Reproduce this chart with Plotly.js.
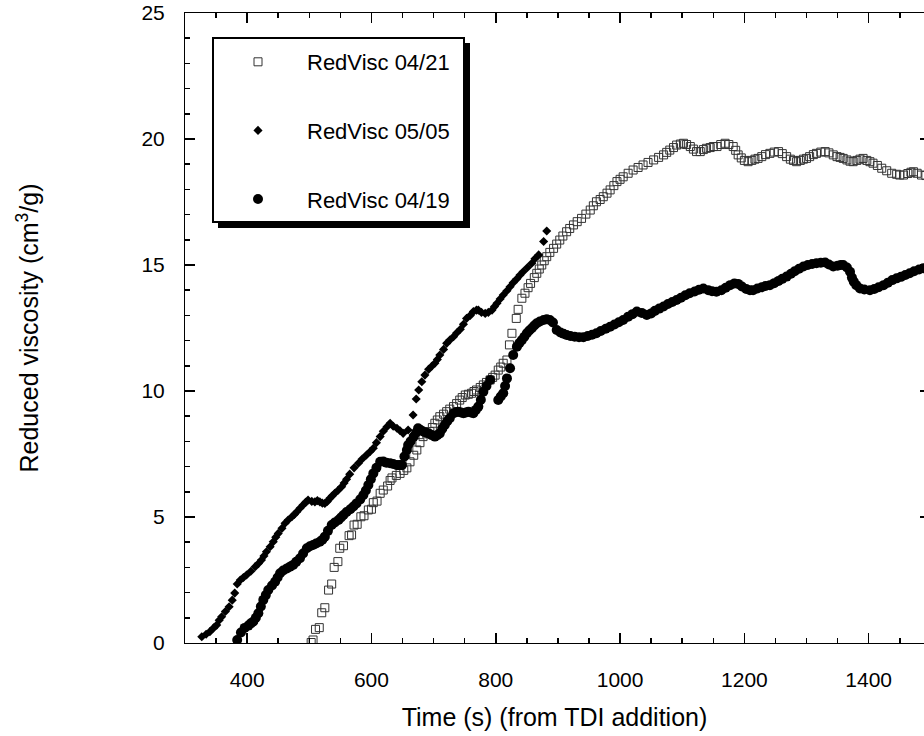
<!DOCTYPE html>
<html>
<head>
<meta charset="utf-8">
<script src="https://cdn.plot.ly/plotly-3.0.1.min.js"></script>
<style>
html, body { margin:0; padding:0; background:#fff; }
</style>
</head>
<body>
<div id="chart"></div>
<script>
// RedVisc 04/21 (open squares)
const x0421 = [503,506,510,516,520,525,531,536,540,546,549,555,564,568,572,577,583,588,595,600,603,609,614,619,626,630,633,640,646,652,657,662,668,673,678,683,689,694,698,702,706,710,716,721,726,732,737,742,746,751,756,761,765,769,775,780,785,791,795,799,804,808,812,818,822,826,833,836,842,847,852,856,862,866,870,874,878,882,887,893,898,903,908,914,919,925,931,938,945,952,957,962,968,973,979,984,990,995,1000,1005,1013,1021,1029,1037,1045,1054,1062,1070,1075,1080,1086,1091,1097,1102,1107,1113,1118,1123,1129,1134,1139,1145,1150,1156,1162,1169,1175,1182,1186,1190,1195,1200,1206,1212,1217,1222,1228,1234,1241,1248,1255,1261,1268,1274,1279,1284,1290,1295,1300,1305,1311,1316,1323,1330,1336,1343,1349,1354,1359,1365,1370,1375,1381,1386,1391,1397,1402,1407,1414,1421,1429,1437,1445,1450,1456,1463,1468,1472,1478,1485,1492,1498];
const y0421 = [0.02,0.12,0.54,0.61,1.2,1.4,2.1,2.34,3.0,3.23,3.76,3.86,4.26,4.29,4.68,4.71,5.01,5.05,5.28,5.31,5.57,5.63,5.94,6.07,6.23,6.45,6.55,6.65,6.73,6.85,6.95,7.19,7.45,7.66,7.95,8.19,8.3,8.39,8.55,8.72,8.85,8.98,9.08,9.18,9.28,9.38,9.5,9.64,9.74,9.84,9.87,9.91,9.98,10.04,10.14,10.24,10.34,10.44,10.54,10.63,10.83,10.95,11.1,11.23,11.83,12.29,12.88,13.24,13.68,13.88,14.1,14.27,14.5,14.67,14.84,15.0,15.17,15.33,15.5,15.66,15.83,15.99,16.15,16.32,16.45,16.59,16.72,16.85,17.02,17.18,17.35,17.51,17.6,17.71,17.85,17.98,18.15,18.31,18.4,18.5,18.64,18.77,18.87,18.97,19.07,19.17,19.27,19.37,19.47,19.56,19.66,19.76,19.8,19.83,19.78,19.7,19.6,19.5,19.5,19.58,19.63,19.66,19.7,19.7,19.78,19.83,19.78,19.7,19.55,19.37,19.25,19.15,19.1,19.15,19.2,19.23,19.3,19.38,19.43,19.48,19.5,19.42,19.3,19.2,19.15,19.1,19.15,19.2,19.23,19.3,19.38,19.43,19.48,19.5,19.45,19.37,19.3,19.27,19.23,19.17,19.12,19.1,19.15,19.2,19.23,19.15,19.1,19.04,18.95,18.84,18.74,18.64,18.6,18.57,18.57,18.63,18.68,18.7,18.64,18.57,18.55,18.6];

// RedVisc 05/05 (filled diamonds)
const x0505 = [327,334,340,346,351,355,359,365,371,376,380,384,389,394,399,406,413,418,423,427,431,437,442,446,450,456,461,466,472,476,480,485,490,494,498,504,509,513,517,521,525,529,533,537,541,546,552,556,560,565,572,579,585,592,598,603,608,614,619,625,630,635,641,646,651,659,667,672,676,681,686,692,697,702,706,710,716,721,726,732,737,743,748,753,759,764,769,772,777,783,788,794,798,802,807,812,818,823,828,834,839,844,851,858,863,869,877,882];
const y0505 = [0.25,0.35,0.45,0.6,0.71,0.9,1.04,1.25,1.44,1.7,1.98,2.34,2.5,2.6,2.7,2.85,3.03,3.15,3.29,3.45,3.62,3.82,4.02,4.2,4.35,4.55,4.75,4.88,5.01,5.1,5.21,5.35,5.48,5.58,5.67,5.62,5.6,5.65,5.6,5.55,5.54,5.62,5.74,5.84,5.94,6.05,6.2,6.35,6.5,6.7,6.95,7.13,7.3,7.46,7.6,7.73,7.95,8.19,8.4,8.58,8.72,8.6,8.52,8.42,8.32,8.45,9.05,9.68,10.04,10.37,10.63,10.86,10.98,11.1,11.25,11.43,11.65,11.89,12.02,12.15,12.3,12.45,12.65,12.88,13.0,13.15,13.21,13.21,13.12,13.08,13.12,13.21,13.35,13.48,13.65,13.81,13.98,14.14,14.3,14.45,14.6,14.73,14.9,15.07,15.25,15.4,15.93,16.35];

// RedVisc 04/19 (filled circles)
const x0419 = [384,390,396,402,406,410,414,418,422,426,430,434,440,445,449,453,458,464,469,474,479,485,490,496,501,506,511,517,521,525,530,536,541,547,551,555,560,566,571,576,582,587,591,595,599,603,608,614,619,624,630,635,641,645,649,653,657,659,663,668,672,675,679,683,687,692,697,702,706,710,714,718,722,726,732,736,740,744,748,752,756,760,764,768,772,776,780,785,791,804,808,812,815,818,823,828,834,838,842,846,850,854,858,862,866,871,877,882,887,892,898,904,909,914,920,927,934,941,948,955,962,969,977,984,991,998,1005,1013,1020,1027,1035,1043,1050,1056,1063,1070,1077,1084,1091,1098,1105,1112,1120,1127,1134,1142,1148,1155,1163,1170,1177,1184,1190,1196,1203,1209,1214,1221,1228,1234,1241,1248,1255,1261,1268,1275,1281,1288,1295,1302,1309,1316,1323,1330,1336,1343,1350,1355,1359,1365,1370,1373,1376,1380,1386,1393,1402,1409,1416,1424,1431,1438,1445,1452,1459,1466,1473,1481,1488,1495];
const y0419 = [0.12,0.42,0.6,0.69,0.78,0.85,1.0,1.18,1.45,1.71,1.9,2.1,2.28,2.43,2.6,2.77,2.88,2.96,3.03,3.1,3.22,3.36,3.55,3.76,3.84,3.89,3.95,4.02,4.1,4.22,4.45,4.68,4.78,4.88,4.98,5.08,5.2,5.31,5.42,5.54,5.7,5.87,6.05,6.27,6.5,6.73,6.95,7.19,7.2,7.15,7.13,7.1,7.06,7.06,7.06,7.4,7.66,7.86,8.0,8.19,8.35,8.52,8.45,8.39,8.35,8.32,8.25,8.19,8.25,8.32,8.5,8.65,8.8,8.92,9.12,9.16,9.18,9.15,9.12,9.15,9.18,9.15,9.12,9.25,9.38,9.65,9.97,10.2,10.44,9.64,9.78,9.91,10.2,10.5,10.9,11.43,11.76,11.9,12.02,12.15,12.29,12.4,12.49,12.6,12.69,12.76,12.82,12.85,12.82,12.72,12.42,12.32,12.27,12.22,12.18,12.15,12.13,12.13,12.18,12.23,12.29,12.38,12.47,12.55,12.64,12.73,12.82,12.95,13.05,13.15,13.1,13.02,13.08,13.18,13.27,13.35,13.45,13.53,13.61,13.7,13.8,13.88,13.95,14.02,14.07,14.0,13.96,13.94,14.0,14.1,14.2,14.27,14.25,14.15,14.05,14.0,14.0,14.07,14.12,14.17,14.2,14.28,14.37,14.45,14.54,14.65,14.75,14.85,14.94,15.0,15.04,15.07,15.09,15.1,15.02,14.94,14.97,15.0,15.0,14.9,14.73,14.5,14.34,14.2,14.07,14.03,14.0,14.05,14.12,14.2,14.3,14.4,14.47,14.53,14.6,14.67,14.75,14.82,14.87,14.92];

const seriesNames = ['RedVisc 04/21', 'RedVisc 05/05', 'RedVisc 04/19'];
const xTitle = 'Time (s) (from TDI addition)';
const yTitle = 'Reduced viscosity (cm<sup>3</sup>/g)';
// the original frame runs past the right edge of the picture (to 1500 s); the visible part ends near 1489 s
const xRange = [300, 1489];
const yRange = [0, 25];

const FONT = 'Liberation Sans, Arial, Helvetica, sans-serif';

// plot area in pixels (for legend box placement)
const W = 924, H = 736;
const L = 185, R = 924, T = 13, B = 643;
const px = v => (v - L) / (R - L);
const py = v => (B - v) / (B - T);

const holder = (xa, ya) => ({ x: [], y: [], xaxis: xa, yaxis: ya, type: 'scatter', mode: 'markers',
  showlegend: false, hoverinfo: 'skip' });

const traces = [
  { x: x0421, y: y0421, name: seriesNames[0], type: 'scatter', mode: 'markers', legendgroup: 'a',
    marker: { symbol: 'square-open', size: 8, color: '#333', line: { width: 1, color: '#333' } } },
  { x: x0505, y: y0505, name: seriesNames[1], type: 'scatter', mode: 'markers', legendgroup: 'b',
    marker: { symbol: 'diamond', size: 7, color: '#000' } },
  { x: x0419, y: y0419, name: seriesNames[2], type: 'scatter', mode: 'markers', legendgroup: 'c',
    marker: { symbol: 'circle', size: 10, color: '#000' } },
  // empty traces that carry the extra frame axes (top/right sides and minor tick rows)
  holder('x2', 'y'), holder('x', 'y2'), holder('x3', 'y'), holder('x4', 'y'), holder('x', 'y3')
];

const TW = 1.5;
const tickOnly = {
  showgrid: false, zeroline: false, showticklabels: false,
  ticks: 'inside', tickwidth: TW, tickcolor: 'black'
};

const layout = {
  width: W, height: H,
  margin: { l: L, r: W - R, t: T, b: H - B },
  font: { family: FONT, color: '#000' },
  showlegend: true,
  xaxis: {
    range: xRange, tick0: 0, dtick: 200, showgrid: false, zeroline: false,
    showline: true, linecolor: 'black', linewidth: 1,
    ticks: 'inside', ticklen: 10, tickwidth: TW, tickcolor: 'black', ticklabelstandoff: 18,
    tickfont: { family: FONT, size: 21, color: '#000' },
    title: { text: xTitle, font: { family: FONT, size: 25, color: '#000' }, standoff: 18 }
  },
  yaxis: {
    range: yRange, tick0: 0, dtick: 5, showgrid: false, zeroline: false,
    showline: true, linecolor: 'black', linewidth: 1,
    ticks: 'inside', ticklen: 10, tickwidth: TW, tickcolor: 'black', ticklabelstandoff: 15,
    tickfont: { family: FONT, size: 21, color: '#000' },
    title: { text: yTitle, font: { family: FONT, size: 25, color: '#000' }, standoff: 95 }
  },
  // top frame side with major ticks
  xaxis2: Object.assign({}, tickOnly, { overlaying: 'x', anchor: 'y', side: 'top', range: xRange, tick0: 0, dtick: 200,
    ticklen: 10, showline: true, linecolor: 'black', linewidth: 1 }),
  // right frame side (frame itself lies just beyond the picture edge): only tick stubs show
  yaxis2: Object.assign({}, tickOnly, { overlaying: 'y', anchor: 'x', side: 'right', range: yRange, tick0: 0, dtick: 5,
    ticklen: 4, showline: false }),
  // minor tick rows
  xaxis3: Object.assign({}, tickOnly, { overlaying: 'x', anchor: 'y', side: 'bottom', range: xRange, tick0: 0, dtick: 50, ticklen: 5 }),
  xaxis4: Object.assign({}, tickOnly, { overlaying: 'x', anchor: 'y', side: 'top', range: xRange, tick0: 0, dtick: 50, ticklen: 5 }),
  yaxis3: Object.assign({}, tickOnly, { overlaying: 'y', anchor: 'x', side: 'left', range: yRange, tick0: 0, dtick: 1, ticklen: 5 }),
  legend: {
    x: px(209), y: py(41), xanchor: 'left', yanchor: 'top',
    bgcolor: 'rgba(0,0,0,0)', borderwidth: 0,
    itemwidth: 88, tracegroupgap: 37,
    font: { family: FONT, size: 22, color: '#000' }
  },
  shapes: [
    { type: 'rect', xref: 'paper', yref: 'paper', x0: px(218), x1: px(470), y0: py(228), y1: py(43),
      fillcolor: '#000', line: { width: 0 }, layer: 'below' },
    { type: 'rect', xref: 'paper', yref: 'paper', x0: px(213), x1: px(464), y0: py(222), y1: py(38),
      fillcolor: '#fff', line: { width: 2, color: '#000' }, layer: 'below' }
  ]
};

Plotly.newPlot('chart', traces, layout, { displayModeBar: false, staticPlot: true });
</script>
</body>
</html>
